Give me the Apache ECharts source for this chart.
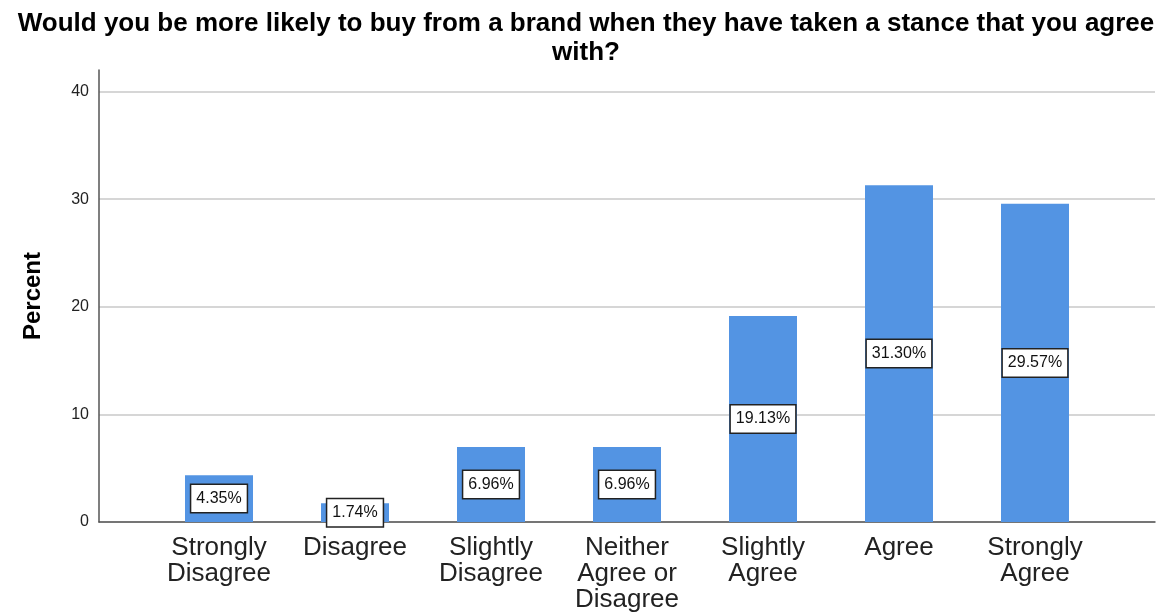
<!DOCTYPE html>
<html>
<head>
<meta charset="utf-8">
<script src="https://cdn.jsdelivr.net/npm/echarts@6/dist/echarts.min.js"></script>
<style>
  html, body { margin: 0; padding: 0; background: #fff; }
  #chart { width: 1162px; height: 614px; }
</style>
</head>
<body>
<div id="chart"></div>
<script>
// Survey responses (share of respondents, %)
const categories = [
  'Strongly\nDisagree',
  'Disagree',
  'Slightly\nDisagree',
  'Neither\nAgree or\nDisagree',
  'Slightly\nAgree',
  'Agree',
  'Strongly\nAgree'
];
const percents = [4.35, 1.74, 6.96, 6.96, 19.13, 31.30, 29.57];
const yTicks = [0, 10, 20, 30, 40];

const FONT = '"Liberation Sans", Arial, sans-serif';
const Y_MAX = 42;

const chart = echarts.init(document.getElementById('chart'), null, { renderer: 'canvas' });

chart.setOption({
  backgroundColor: '#ffffff',
  animation: false,
  title: {
    text: 'Would you be more likely to buy from a brand when they have taken a stance that you agree\nwith?',
    left: '50%',
    textAlign: 'center',
    top: 4,
    textStyle: {
      fontFamily: FONT,
      fontSize: 26,
      fontWeight: 'bold',
      color: '#000',
      lineHeight: 29
    }
  },
  grid: [
    // frame grid: axis lines and gridlines
    { left: 99, right: 7, top: 70, bottom: 92 },
    // bar grid: categories inset from the frame
    { left: 151, right: 59, top: 70, bottom: 92 }
  ],
  xAxis: [
    {
      gridIndex: 0,
      type: 'category',
      data: [''],
      axisLine: { show: true, lineStyle: { color: '#555', width: 1.5 } },
      axisTick: { show: false },
      axisLabel: { show: false },
      splitLine: { show: false }
    },
    {
      gridIndex: 1,
      type: 'category',
      data: categories,
      axisLine: { show: false },
      axisTick: { show: false },
      axisLabel: {
        margin: 13,
        fontFamily: FONT,
        fontSize: 26,
        lineHeight: 26,
        color: '#222',
        interval: 0
      }
    }
  ],
  yAxis: [
    {
      gridIndex: 0,
      type: 'value',
      min: 0,
      max: Y_MAX,
      interval: 10,
      name: 'Percent',
      nameLocation: 'middle',
      nameGap: 54,
      nameTextStyle: {
        fontFamily: FONT,
        fontSize: 24,
        fontWeight: 'bold',
        color: '#000'
      },
      axisLine: { show: true, lineStyle: { color: '#555', width: 1.5 } },
      axisTick: { show: false },
      axisLabel: {
        margin: 10,
        padding: [4, 0, 0, 0],
        fontFamily: FONT,
        fontSize: 16,
        color: '#222',
        showMaxLabel: false,
        formatter: v => (yTicks.includes(v) ? String(v) : '')
      },
      splitLine: {
        show: true,
        showMaxLine: false,
        lineStyle: { color: '#d6d6d6', width: 2 }
      }
    },
    {
      gridIndex: 1,
      type: 'value',
      min: 0,
      max: Y_MAX,
      show: false,
      splitLine: { show: false }
    }
  ],
  series: [
    {
      type: 'bar',
      xAxisIndex: 1,
      yAxisIndex: 1,
      data: percents,
      barWidth: '50%',
      itemStyle: { color: '#5394e3' },
      label: {
        show: true,
        position: 'inside',
        formatter: p => p.value.toFixed(2) + '%',
        fontFamily: FONT,
        fontSize: 16,
        color: '#111',
        backgroundColor: '#ffffff',
        borderColor: '#222',
        borderWidth: 1.5,
        padding: [5, 5, 4, 5],
        lineHeight: 18
      }
    }
  ]
});
</script>
</body>
</html>
